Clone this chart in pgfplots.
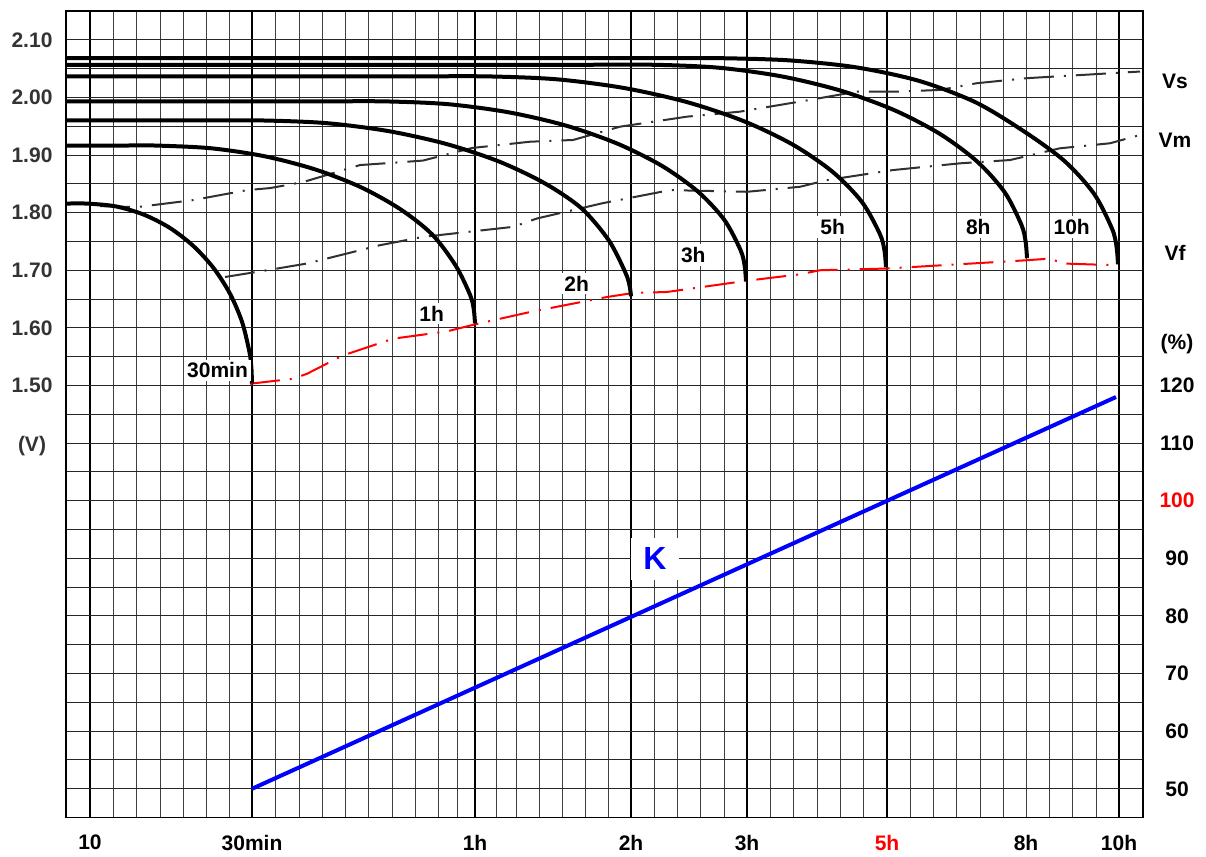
\documentclass[border=0pt]{standalone}
\usepackage{pgfplots}
\pgfplotsset{compat=1.18}
\usepackage{fontspec}
\setmainfont{Liberation Sans}
\definecolor{lblgray}{HTML}{333333}
\definecolor{ddgray}{HTML}{303030}
\pgfplotsset{
  dashdot/.style={ddgray, line width=1pt, sharp plot, dash pattern=on 15pt off 5pt on 1pt off 5pt},
  base/.style={scale only axis, width=538.5pt, height=403.3pt,
  xmin=66, xmax=1143, ymin=0.75, ymax=2.15, clip=false,
  major tick length=0pt, minor tick length=0pt,
  tick label style={font=\fontsize{10.5}{12}\selectfont\bfseries}}}
\begin{document}
\begin{tikzpicture}[
  lbl/.style={font=\fontsize{10.5}{12}\selectfont\bfseries},
]
% right-hand percent scale
\begin{axis}[base, axis x line=none, axis y line*=right, axis line style={draw=none},
  xtick=\empty,
  ytick={0.8,0.9,1.0,1.1,1.2,1.3,1.4,1.5},
  yticklabels={50,60,70,80,90,\textcolor{red}{100},110,120},
  yticklabel style={anchor=center, xshift=17pt}]
\end{axis}
\begin{axis}[base,
  axis line style={black, line width=0.6pt},
  xtick={90,252,475,631,747,887,1119},
  xticklabels={10,30min,1h,2h,3h,\textcolor{red}{5h},10h},
  extra x ticks={1026}, extra x tick labels={8h}, extra x tick style={grid=none},
  minor xtick={113,136,160,183,206,229,275,299,322,345,368,392,415,438,457,496,516,539,562,585,608,654,677,700,724,770,793,817,840,863,910,933,956,980,1003,1026,1049,1072,1096},
  ytick={1.5,1.6,1.7,1.8,1.9,2.0,2.1},
  yticklabels={1.50,1.60,1.70,1.80,1.90,2.00,2.10},
  minor ytick={0.80,0.85,0.90,0.95,1.00,1.05,1.10,1.15,1.20,1.25,1.30,1.35,1.40,1.45,1.55,1.65,1.75,1.85,1.95,2.05},
  grid=both,
  major x grid style={black, line width=1.1pt},
  minor x grid style={black!75, line width=0.5pt},
  major y grid style={black!85, line width=0.5pt},
  minor y grid style={black!85, line width=0.5pt},
  xticklabel style={anchor=center, yshift=-12.5pt},
  yticklabel style={anchor=center, xshift=-17pt, text=lblgray},
]
% K line
\addplot[blue, line width=2pt] coordinates {(252,0.80) (1116,1.48)};
% Vs
\addplot[dashdot] coordinates {(100,1.8113) (137,1.8096) (193,1.8217) (247,1.8391) (270,1.8426) (303,1.8530) (360,1.8826) (403,1.8878) (423,1.8904) (472,1.9122) (530,1.9231) (573,1.9261) (620,1.9492) (687,1.9666) (740,1.9753) (760,1.9812) (810,1.9957) (857,2.0101) (898,2.0101) (940,2.0130) (977,2.0247) (1027,2.0334) (1140,2.0449)};
% Vm
\addplot[dashdot] coordinates {(225,1.6883) (267,1.7000) (307,1.7117) (380,1.7435) (423,1.7579) (513,1.7753) (537,1.7899) (603,1.8165) (670,1.8391) (747,1.8362) (800,1.8449) (827,1.8565) (893,1.8739) (960,1.8856) (1010,1.8913) (1060,1.9117) (1110,1.9204) (1140,1.9348)};
% Vf
\addplot[red, line width=1pt, sharp plot, dash pattern=on 15pt off 5pt on 1pt off 5pt] coordinates {(250,1.5030) (293,1.5117) (307,1.5203) (343,1.5522) (393,1.5812) (447,1.5939) (475,1.6061) (530,1.6275) (607,1.6536) (633,1.6605) (667,1.6623) (745,1.6814) (800,1.6930) (820,1.7000) (887,1.7030) (1027,1.7174) (1050,1.7203) (1063,1.7117) (1117,1.7087)};
% discharge curves: 30min, 1h, 2h, 3h, 5h, 8h, 10h
\addplot[black, line width=2pt, smooth] coordinates {(66,1.8157) (87,1.8157) (115.65,1.8109) (143.43,1.7968) (169.5,1.7739) (193.06,1.7426) (213.4,1.7042) (229.9,1.6596) (242.05,1.6103) (249.49,1.5577) (251.37,1.5307) (252,1.5035)};
\addplot[black, line width=2pt, smooth] coordinates {(66,1.9165) (95,1.9165) (125,1.9165) (155,1.9165) (210.57,1.9118) (264.45,1.8979) (315,1.8751) (360.69,1.8443) (400.13,1.8062) (432.13,1.7622) (455.7,1.7080) (470.14,1.6570) (473.78,1.6320) (475,1.6078)};
\addplot[black, line width=2pt, smooth] coordinates {(66,1.9600) (130,1.9600) (200,1.9600) (262,1.9600) (326.08,1.9554) (388.21,1.9416) (446.5,1.9191) (499.19,1.8886) (544.67,1.8510) (581.56,1.8074) (608.75,1.7520) (625.39,1.6960) (629.59,1.6730) (631,1.6548)};
\addplot[black, line width=2pt, smooth] coordinates {(66,1.9931) (130,1.9931) (195,1.9931) (260,1.9931) (322,1.9931) (385,1.9931) (447.69,1.9883) (508.47,1.9742) (565.5,1.9513) (617.05,1.9200) (661.54,1.8816) (697.64,1.8370) (724.23,1.7877) (740.52,1.7351) (744.62,1.7081) (746,1.6809)};
\addplot[black, line width=2pt, smooth] coordinates {(66,2.0365) (137,2.0365) (207,2.0365) (277,2.0365) (347,2.0365) (417,2.0365) (487,2.0365) (556.29,2.0315) (623.47,2.0165) (686.5,1.9921) (743.47,1.9590) (792.65,1.9182) (832.55,1.8709) (861.94,1.8185) (879.94,1.7627) (884.48,1.7341) (886,1.7052)};
\addplot[black, line width=2pt, smooth] coordinates {(66,2.0566) (150,2.0566) (235,2.0566) (320,2.0566) (405,2.0566) (490,2.0566) (575,2.0566) (655,2.0566) (719.6,2.0514) (782.23,2.0363) (841,2.0116) (894.12,1.9780) (939.97,1.9366) (977.16,1.8887) (1004.56,1.8357) (1021.35,1.7792) (1025.58,1.7502) (1027,1.7209)};
\addplot[black, line width=2pt, smooth] coordinates {(66,2.0681) (160,2.0681) (250,2.0681) (340,2.0681) (430,2.0681) (520,2.0681) (600,2.0681) (660,2.0681) (720,2.0681) (789.11,2.0643) (856.12,2.0522) (919,2.0287) (975.83,1.9913) (1024.88,1.9400) (1064.68,1.8893) (1094,1.8328) (1111.95,1.7725) (1116.48,1.7416) (1118,1.7104)};
% labels
\node[lbl, fill=white, inner sep=1.5pt] at (axis cs:217.5,1.5261) {30min};
\node[lbl, fill=white, inner sep=1.5pt] at (axis cs:431.7,1.6247) {1h};
\node[lbl, fill=white, inner sep=1.5pt] at (axis cs:576.7,1.6769) {2h};
\node[lbl, fill=white, inner sep=1.5pt] at (axis cs:693.3,1.7261) {3h};
\node[lbl, fill=white, inner sep=1.5pt] at (axis cs:832.7,1.7753) {5h};
\node[lbl, fill=white, inner sep=1.5pt] at (axis cs:978.3,1.7753) {8h};
\node[lbl, fill=white, inner sep=1.5pt] at (axis cs:1071.7,1.7753) {10h};
\node[lbl] at (axis cs:1175,2.0275) {Vs};
\node[lbl] at (axis cs:1175,1.9261) {Vm};
\node[lbl] at (axis cs:1175,1.7296) {Vf};
\node[lbl] at (axis cs:1177,1.5725) {(\%)};
\node[lbl, text=lblgray] at (axis cs:32,1.3957) {(V)};
\node[font=\fontsize{16}{18}\selectfont\bfseries, text=blue, fill=white, inner xsep=6pt, inner ysep=5pt] at (axis cs:655,1.1991) {K};
\end{axis}
\pgfresetboundingbox
\path[use as bounding box] ([xshift=-33pt,yshift=-19.5pt]current axis.south west) rectangle ([xshift=31.5pt,yshift=5.5pt]current axis.north east);
\end{tikzpicture}
\end{document}
